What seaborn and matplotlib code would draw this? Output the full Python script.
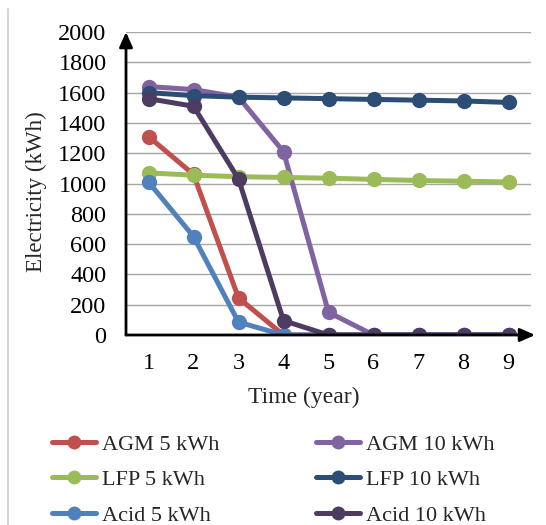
import matplotlib
matplotlib.use("Agg")
import matplotlib.pyplot as plt
from matplotlib.lines import Line2D
import seaborn as sns
import pandas as pd

years = [1, 2, 3, 4, 5, 6, 7, 8, 9]
agm_5 = [1310, 1060, 245, 0, 0, 0, 0, 0, 0]
agm_10 = [1640, 1620, 1570, 1210, 150, 0, 0, 0, 0]
lfp_5 = [1070, 1055, 1045, 1040, 1035, 1027, 1020, 1015, 1010]
lfp_10 = [1600, 1580, 1570, 1565, 1560, 1555, 1550, 1545, 1535]
acid_5 = [1010, 650, 85, 0, 0, 0, 0, 0, 0]
acid_10 = [1560, 1510, 1030, 95, 0, 0, 0, 0, 0]

series_names = ["AGM 5 kWh", "AGM 10 kWh", "LFP 5 kWh", "LFP 10 kWh", "Acid 5 kWh", "Acid 10 kWh"]
series_values = [agm_5, agm_10, lfp_5, lfp_10, acid_5, acid_10]
colors = ["#C0504D", "#8064A2", "#9BBB59", "#2C4D75", "#4F81BD", "#4D3B62"]

df = pd.DataFrame(
    [(y, v, n) for n, vals in zip(series_names, series_values) for y, v in zip(years, vals)],
    columns=["Time (year)", "Electricity (kWh)", "Series"],
)

sns.set_style("white")
plt.rcParams["font.family"] = ["Liberation Serif", "DejaVu Serif"]

fig = plt.figure(figsize=(5.46, 5.25), dpi=100)
ax = fig.add_axes([126 / 546, 1 - 335 / 525, (531 - 126) / 546, (335 - 32) / 525])

sns.lineplot(
    data=df, x="Time (year)", y="Electricity (kWh)", hue="Series",
    hue_order=series_names, palette=dict(zip(series_names, colors)),
    marker="o", markersize=11, markeredgewidth=0, linewidth=3.6,
    legend=False, ax=ax, zorder=3,
)

ax.set_xlim(0.5, 9.5)
ax.set_ylim(0, 2000)
ax.set_xticks(years)
ax.set_yticks(range(0, 2001, 200))
ax.tick_params(axis="both", length=0, labelsize=17.5, colors="black")
ax.tick_params(axis="x", pad=13)
ax.tick_params(axis="y", pad=14)
ax.yaxis.grid(True, color="#A6A6A6", linewidth=1.0)
ax.xaxis.grid(False)
for s in ax.spines.values():
    s.set_visible(False)
ax.set_axisbelow(True)

# axis arrows
ax.annotate("", xy=(0, 1.0), xytext=(0, 0), xycoords="axes fraction",
            arrowprops=dict(arrowstyle="-|>,head_length=0.9,head_width=0.4", color="black", lw=2, shrinkA=0, shrinkB=0),
            annotation_clip=False)
ax.annotate("", xy=(1.01, 0), xytext=(0, 0), xycoords="axes fraction",
            arrowprops=dict(arrowstyle="-|>,head_length=0.9,head_width=0.4", color="black", lw=2, shrinkA=0, shrinkB=0),
            annotation_clip=False)

ax.set_xlabel("Time (year)", fontsize=17, labelpad=8)
ax.xaxis.set_label_coords((304 - 126) / 405, -0.17)
ax.set_ylabel("Electricity (kWh)", fontsize=16.5)
ax.yaxis.set_label_coords(-(126 - 47) / 405, (335 - 192) / 303)

# legend: left column 5 kWh, right column 10 kWh
order = [0, 2, 4, 1, 3, 5]
handles = [Line2D([0], [0], color=colors[i], lw=3.6, marker="o", markersize=10, markeredgewidth=0) for i in order]
labels = [series_names[i] for i in order]
fig.legend(handles, labels, ncol=2, loc="upper left", bbox_to_anchor=(52 / 546, 1 - 434 / 525),
           frameon=False, fontsize=16, handlelength=1.98, handletextpad=0.27, borderpad=0,
           borderaxespad=0, columnspacing=4.37, labelspacing=0.68)

# page border line
fig.add_artist(Line2D([8 / 546, 8 / 546], [0, 1 - 9 / 525], color="#D4D4D4", lw=1.5))

fig.savefig("out.png", dpi=100)
